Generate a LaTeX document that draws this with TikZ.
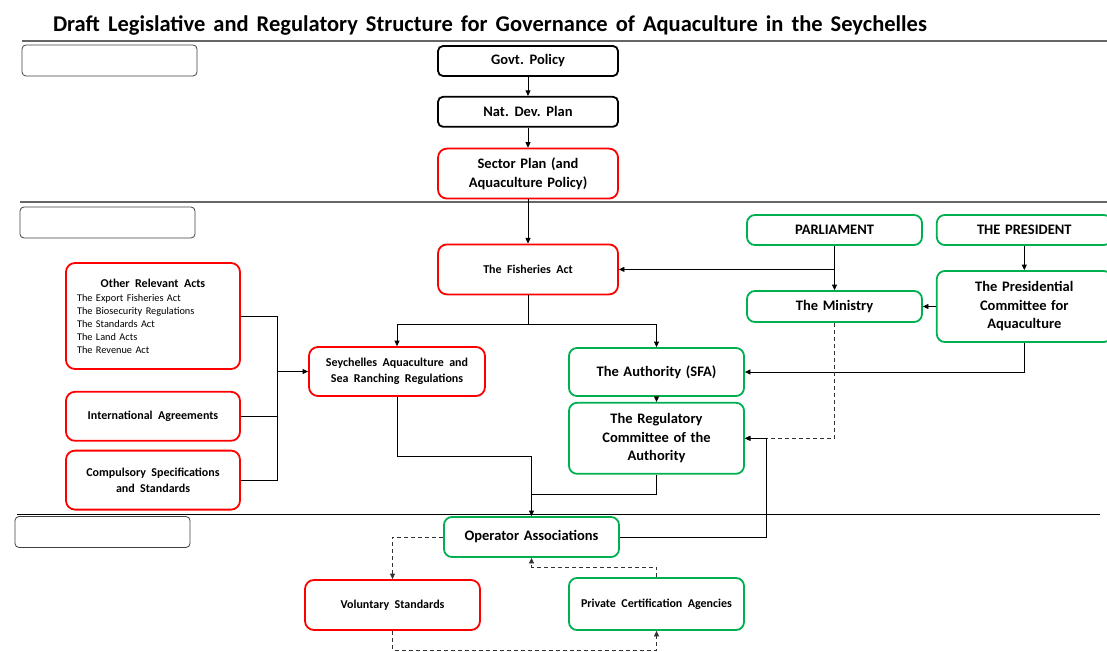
\documentclass[tikz,border=0pt]{standalone}
\usepackage{fontspec}
\setmainfont{Carlito}
\usetikzlibrary{arrows.meta,positioning,calc}
\definecolor{offgreen}{HTML}{00B050}
\definecolor{offred}{HTML}{FF0000}
\newcommand{\widesp}[1]{\spaceskip=#1\relax}
\newcommand{\titlefont}{\bfseries\fontsize{22.5}{26}\selectfont\widesp{8pt}}
\newcommand{\bigfont}{\bfseries\fontsize{14.5}{18.5}\selectfont\widesp{.32em}}
\newcommand{\smallfont}{\bfseries\fontsize{12}{16}\selectfont\widesp{.45em}}
\newcommand{\listfont}{\fontsize{10.3}{13}\selectfont\widesp{.4em}}
\tikzset{
  big/.style={font=\bigfont},
  small/.style={font=\smallfont},
  topbox/.style={draw=black,line width=1.8pt,rounded corners=5pt,align=center,
    minimum width=180pt,minimum height=30pt,big},
  redbox/.style={draw=offred,line width=1.8pt,rounded corners=9pt,align=center,
    minimum width=175pt,minimum height=49pt,small},
  greenbox/.style={draw=offgreen,line width=1.8pt,rounded corners=8pt,align=center,
    minimum width=175pt,minimum height=30pt,big},
  bandbox/.style={draw=black!75,line width=0.8pt,rounded corners=4pt,
    minimum width=175pt,minimum height=31pt},
  divider/.style={line width=1.1pt,draw=black!60},
  arr/.style={-{Triangle[length=5.5pt,width=5pt]},line width=0.8pt},
  link/.style={line width=0.8pt},
  dashlink/.style={dash pattern=on 4pt off 3pt,draw=black!80}
}
\begin{document}
\begin{tikzpicture}[x=1pt,y=-1pt]
  \useasboundingbox (0,0) rectangle (1107,652);

  \node[font=\titlefont] (title) at (490,25)
    {Draft Legislative and Regulatory Structure for Governance of Aquaculture in the Seychelles};

  % level bands
  \draw[divider] (22,41) -- (1107,41);
  \draw[divider] (20,202) -- (1107,202);
  \draw[line width=0.9pt] (17,514) -- (1100,514);
  \node[bandbox] (band1) at (109.5,60.5) {};
  \node[bandbox] (band2) at (107.5,222.5) {};
  \node[bandbox] (band3) at (102.5,532) {};

  % policy level
  \node[topbox] (govt) at (528,61) {Govt. Policy};
  \node[topbox,below=19pt of govt] (natplan) {Nat. Dev. Plan};
  \node[topbox,draw=offred,rounded corners=9pt,minimum height=50pt,below=20pt of natplan] (sector)
    {Sector Plan (and\\Aquaculture Policy)};

  \draw[arr] (govt) -- (natplan);
  \draw[arr] (natplan) -- (sector);

  % legislative level
  \node[redbox,minimum width=180pt,minimum height=50pt,below=44pt of sector] (fishact) {The Fisheries Act};
  \node[greenbox] (parl) at (834.5,230) {PARLIAMENT};
  \node[greenbox,right=13pt of parl] (president) {THE PRESIDENT};
  \node[greenbox,minimum height=31pt] (ministry) at (834.5,306.5) {The Ministry};
  \node[greenbox,minimum height=71pt,right=13pt of ministry] (prescom)
    {The Presidential\\Committee for\\Aquaculture};

  \node[redbox,minimum width=174pt,minimum height=106pt,align=left,text width=152pt,
    font=\listfont] (otheracts) at (153,316)
    {\makebox[152pt]{\smallfont Other Relevant Acts}\\[1pt]
     The Export Fisheries Act\\The Biosecurity Regulations\\The Standards Act\\
     The Land Acts\\The Revenue Act};
  \node[redbox,minimum width=174pt,below=21pt of otheracts] (intagree) {International Agreements};
  \node[redbox,minimum width=174pt,minimum height=59pt,below=8pt of intagree] (compspec)
    {Compulsory Specifications\\and Standards};

  \node[redbox,minimum width=176pt] (seyreg) at (397,371.5)
    {Seychelles Aquaculture and\\Sea Ranching Regulations};
  \node[greenbox,minimum height=48pt] (authority) at (656.5,372) {The Authority (SFA)};
  \node[greenbox,minimum height=71pt,below=5pt of authority] (regcom)
    {The Regulatory\\Committee of the\\Authority};

  \draw[arr] (sector) -- (fishact);
  \coordinate (fsplit) at ($(fishact.south)+(0,29)$);
  \draw[link] (fishact) -- (fsplit);
  \draw[arr] (fsplit) -| (seyreg);
  \draw[arr] (fsplit) -| (authority);
  \draw[arr] (parl) -- (ministry);
  \draw[arr] (parl.south |- fishact.east) -- (fishact);
  \draw[arr] (president) -- (prescom);
  \draw[arr] (prescom) -- (ministry);
  \draw[arr] (prescom) |- (authority);
  \draw[arr] (authority) -- (regcom);
  \draw[arr,dashlink] (ministry) |- (regcom);

  \coordinate (lbus) at ($(otheracts.east)+(36,0)$);
  \draw[link] (otheracts.east) -- (lbus) -- (lbus |- compspec.east) -- (compspec.east);
  \draw[link] (intagree.east) -- (lbus |- intagree.east);
  \draw[arr] (lbus |- seyreg) -- (seyreg);

  % operator level
  \node[greenbox,minimum height=40pt] (operator) at (531.5,537) {Operator Associations};
  \node[redbox,minimum height=50pt] (volstd) at (392.5,605) {Voluntary Standards};
  \node[greenbox,small,minimum height=52pt] (privcert) at (656.5,604) {Private Certification Agencies};

  \coordinate (merge) at ($(operator.north)+(0,-22)$);
  \coordinate (sjoin) at ($(operator.north)+(0,-60)$);
  \draw[arr] (seyreg) |- (sjoin) -- (operator);
  \draw[link] (regcom) |- (merge);
  \draw[arr] (operator.east) -| ([xshift=21pt]regcom.east) -- (regcom.east);

  \draw[arr,dashlink] (operator) -| (volstd);
  \draw[arr,dashlink] (volstd.south) -- ++(0,19) -| (privcert.south);
  \draw[arr,dashlink] (privcert.north) -- ++(0,-10) -| (operator.south);
\end{tikzpicture}
\end{document}
